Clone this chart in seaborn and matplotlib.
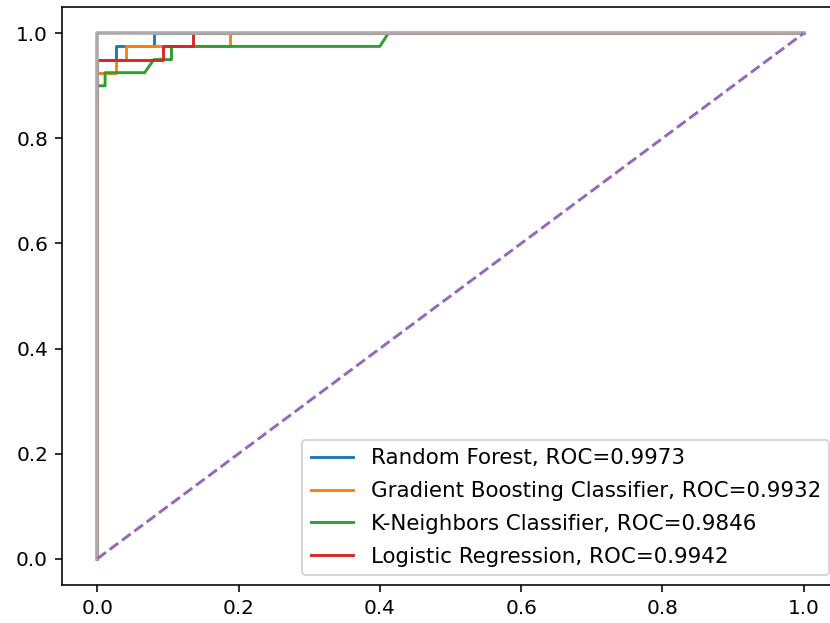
import matplotlib
matplotlib.use("Agg")
import matplotlib.pyplot as plt
import seaborn as sns
import pandas as pd

# ROC curve data (false positive rate, true positive rate)
rf_fpr = [0.0, 0.0, 0.027, 0.027, 0.080, 0.080, 1.0]
rf_tpr = [0.0, 0.95, 0.95, 0.975, 0.975, 1.0, 1.0]

gb_fpr = [0.0, 0.0, 0.027, 0.027, 0.040, 0.040, 0.188, 0.188, 1.0]
gb_tpr = [0.0, 0.925, 0.925, 0.95, 0.95, 0.975, 0.975, 1.0, 1.0]

knn_fpr = [0.0, 0.0, 0.011, 0.011, 0.067, 0.080, 0.105, 0.105, 0.400, 0.412, 1.0]
knn_tpr = [0.0, 0.90, 0.90, 0.925, 0.925, 0.95, 0.95, 0.975, 0.975, 1.0, 1.0]

lr_fpr = [0.0, 0.0, 0.093, 0.093, 0.135, 0.135, 1.0]
lr_tpr = [0.0, 0.95, 0.95, 0.975, 0.975, 1.0, 1.0]

labels = [
    "Random Forest, ROC=0.9973",
    "Gradient Boosting Classifier, ROC=0.9932",
    "K-Neighbors Classifier, ROC=0.9846",
    "Logistic Regression, ROC=0.9942",
]

perfect_fpr = [0.0, 0.0, 1.0]
perfect_tpr = [0.0, 1.0, 1.0]
diag = [0.0, 1.0]

dpi = 144
fig = plt.figure(figsize=(830 / dpi, 623 / dpi), dpi=dpi)
ax = fig.add_axes([62 / 830, 38 / 623, 777 / 830, 578 / 623])

curves = [(rf_fpr, rf_tpr), (gb_fpr, gb_tpr), (knn_fpr, knn_tpr), (lr_fpr, lr_tpr)]
colors = ["tab:blue", "tab:orange", "tab:green", "tab:red"]
for (f, t), lab, c in zip(curves, labels, colors):
    df = pd.DataFrame({"fpr": f, "tpr": t})
    sns.lineplot(data=df, x="fpr", y="tpr", sort=False, estimator=None,
                 color=c, label=lab, ax=ax, linewidth=1.45)

sns.lineplot(x=perfect_fpr, y=perfect_tpr, sort=False, estimator=None,
             color="#ababab", linewidth=1.8, ax=ax, legend=False)
sns.lineplot(x=diag, y=diag, sort=False, estimator=None,
             color="tab:purple", linestyle="--", linewidth=1.45, ax=ax, legend=False)

ax.set_xlabel("")
ax.set_ylabel("")
ax.set_xlim(-0.05, 1.05)
ax.set_ylim(-0.05, 1.05)
ax.set_xticks([0.0, 0.2, 0.4, 0.6, 0.8, 1.0])
ax.set_yticks([0.0, 0.2, 0.4, 0.6, 0.8, 1.0])
handles, labs = ax.get_legend_handles_labels()
ax.legend(handles[:4], labs[:4], loc="lower right", fontsize=10.7,
          labelspacing=0.6, borderaxespad=0.45)

fig.savefig("out.png", dpi=dpi)
